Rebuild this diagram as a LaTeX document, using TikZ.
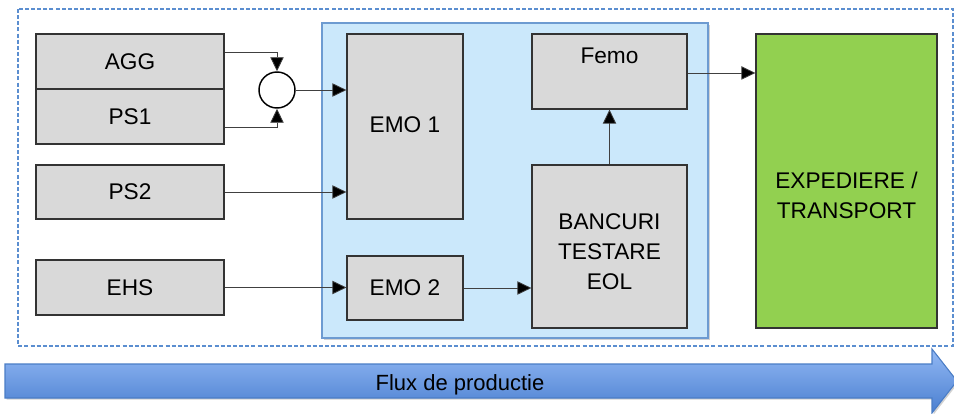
\documentclass[tikz,border=0pt]{standalone}
\usepackage{fontspec}
\setmainfont{Liberation Sans}
\usetikzlibrary{arrows.meta,shadows}
\definecolor{boxgray}{HTML}{D9D9D9}
\definecolor{contblue}{HTML}{CBE8FB}
\definecolor{contedge}{HTML}{6D9BD1}
\definecolor{dashblue}{HTML}{5B8ED0}
\definecolor{expgreen}{HTML}{92D050}
\definecolor{flowtop}{HTML}{92B8F4}
\definecolor{flowbot}{HTML}{4A7FD0}
\definecolor{flowedge}{HTML}{4A7DC6}
\tikzset{
  lbl/.style={font=\fontsize{17}{22.5}\selectfont, align=center},
  graybox/.style={draw=black!80, line width=0.9pt, fill=boxgray, inner sep=0pt, lbl},
  arr/.style={draw=black!75, line width=0.6pt, -{Triangle[length=10.5pt,width=10pt,fill=black]}},
}
\newcommand\mybox[7][]{\node[graybox, #1, minimum width={(#4-#2)*0.75pt}, minimum height={(#5-#3)*0.75pt}] (#6) at ({(#2+#4)/2},{(#3+#5)/2}) {#7};}
\begin{document}
\begin{tikzpicture}[x=0.75pt,y=-0.75pt]
\useasboundingbox (0,0) rectangle (954,414);
\fill[white] (0,0) rectangle (954,414);
% outer dashed frame
\draw[dashblue, line width=0.8pt, dash pattern=on 3pt off 1.6pt] (18,9) rectangle (953,346);
% blue container
\draw[contedge, line width=1pt, fill=contblue, drop shadow={shadow xshift=1.2pt, shadow yshift=-1.2pt, opacity=0.35}] (322,23) rectangle (708,338);
% boxes
\mybox{36}{34}{224}{89}{agg}{AGG}
\mybox{36}{89}{224}{144}{ps1}{PS1}
\mybox{36}{165}{224}{219}{ps2}{PS2}
\mybox{36}{260}{224}{315}{ehs}{EHS}
\mybox[label={[lbl,anchor=center,yshift=1pt]center:EMO 1}]{347}{34}{463}{219}{emo1}{}
\mybox{347}{256}{463}{320}{emo2}{EMO 2}
\mybox[label={[lbl,anchor=center,yshift=-17pt]north:Femo}]{532}{34}{687}{109}{femo}{}
\mybox[label={[lbl,anchor=center,yshift=-4pt]center:BANCURI\\TESTARE\\EOL}]{532}{165}{687}{328}{banc}{}
\mybox[fill=expgreen,label={[lbl,anchor=center,yshift=-11pt]center:EXPEDIERE /\\TRANSPORT}]{756}{34}{937}{328}{exped}{}
% junction
\node[draw=black, line width=1.1pt, fill=white, circle, minimum size={36*0.75pt}, inner sep=0pt] (jn) at (277,90) {};
% connectors
\draw[arr] ([yshift=7.1pt]agg.east) -| (jn.north);
\draw[arr] ([yshift=-7.9pt]ps1.east) -| (jn.south);
\draw[arr] (jn.east) -- (jn.east -| emo1.west);
\draw[arr] (ps2.east) -- (ps2.east -| emo1.west);
\draw[arr] (ehs.east) -- (ehs.east -| emo2.west);
\draw[arr] (emo2.east) -- (emo2.east -| banc.west);
\draw[arr] (banc.north) -- (femo.south);
\draw[arr] ([yshift=-1.1pt]femo.east) -- ([yshift=-1.1pt]femo.east -| exped.west);
% flow arrow
\begin{scope}
\clip (0,0) rectangle (954,414);
\path[draw=flowedge, line width=0.8pt, top color=flowtop, bottom color=flowbot,
  drop shadow={shadow xshift=1.2pt, shadow yshift=-1.2pt, opacity=0.35}]
  (5,364) -- (932,364) -- (932,349) -- (957,381) -- (932,413) -- (932,398) -- (5,398) -- cycle;
\end{scope}
\node[font=\fontsize{16.5}{20}\selectfont] (flow) at (460,385) {Flux de productie};
\end{tikzpicture}
\end{document}
